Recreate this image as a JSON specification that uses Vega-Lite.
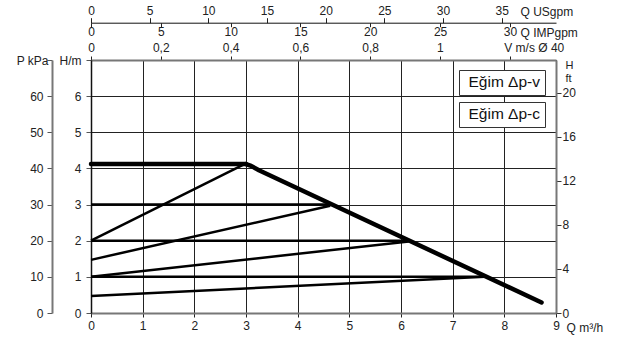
{
  "$schema": "https://vega.github.io/schema/vega-lite/v6.json",
  "width": 465,
  "height": 253,
  "autosize": "none",
  "padding": {"left": 91, "top": 60, "right": 70, "bottom": 32},
  "background": "white",
  "config": {
    "view": {"stroke": null},
    "font": "Liberation Sans",
    "axis": {
      "labelFont": "Liberation Sans",
      "labelFontSize": 12,
      "labelColor": "#222",
      "titleFont": "Liberation Sans",
      "titleFontSize": 12,
      "titleFontWeight": "normal",
      "titleColor": "#222",
      "tickColor": "#333",
      "grid": false,
      "labelFlush": false,
      "labelOverlap": false
    },
    "legend": {
      "orient": "none",
      "title": null,
      "strokeColor": "#333",
      "fillColor": "white",
      "padding": 4,
      "labelFont": "Liberation Sans",
      "labelFontSize": 15.5,
      "labelColor": "#111",
      "symbolOpacity": 0,
      "symbolStrokeWidth": 0,
      "labelLimit": 300
    }
  },
  "data": {
    "values": [
      {"series": "c1", "kind": "c", "Q": 0, "H": 1.0},
      {"series": "c1", "kind": "c", "Q": 7.63, "H": 1.0},
      {"series": "c2", "kind": "c", "Q": 0, "H": 2.0},
      {"series": "c2", "kind": "c", "Q": 6.15, "H": 2.0},
      {"series": "c3", "kind": "c", "Q": 0, "H": 3.0},
      {"series": "c3", "kind": "c", "Q": 4.65, "H": 3.0},
      {"series": "v1", "kind": "v", "Q": 0, "H": 2.0},
      {"series": "v1", "kind": "v", "Q": 2.97, "H": 4.12},
      {"series": "v2", "kind": "v", "Q": 0, "H": 1.47},
      {"series": "v2", "kind": "v", "Q": 4.63, "H": 2.97},
      {"series": "v3", "kind": "v", "Q": 0, "H": 1.0},
      {"series": "v3", "kind": "v", "Q": 6.15, "H": 1.98},
      {"series": "v4", "kind": "v", "Q": 0, "H": 0.47},
      {"series": "v4", "kind": "v", "Q": 7.62, "H": 1.0},
      {"series": "max", "kind": "max", "Q": 0, "H": 4.12},
      {"series": "max", "kind": "max", "Q": 3.0, "H": 4.12},
      {"series": "max", "kind": "max", "Q": 3.1, "H": 4.07},
      {"series": "max", "kind": "max", "Q": 3.25, "H": 3.95},
      {"series": "max", "kind": "max", "Q": 8.72, "H": 0.29}
    ]
  },
  "layer": [
    {
      "transform": [{"filter": "datum.kind == 'c'"}],
      "mark": {"type": "line", "strokeWidth": 2.5, "strokeCap": "butt"},
      "encoding": {
        "x": {
          "field": "Q", "type": "quantitative",
          "scale": {"domain": [0, 9], "nice": false, "zero": false},
          "axis": {
            "orient": "bottom",
            "values": [0, 1, 2, 3, 4, 5, 6, 7, 8, 9],
            "format": "d",
            "grid": true, "gridColor": "#222", "gridWidth": 1,
            "domainColor": "#777", "domainWidth": 2,
            "tickSize": 4, "tickColor": "#222", "labelPadding": 3,
            "title": "Q m³/h", "titleX": 475, "titleY": 14,
            "titleAlign": "left", "titleBaseline": "middle", "titleAngle": 0
          }
        },
        "y": {
          "field": "H", "type": "quantitative",
          "scale": {"domain": [0, 7], "nice": false, "zero": false},
          "axis": {
            "orient": "left",
            "values": [0, 1, 2, 3, 4, 5, 6, 7],
            "labelExpr": "datum.value == 7 ? 'H/m' : datum.label",
            "grid": true, "gridColor": "#222", "gridWidth": 1,
            "domainColor": "#111", "domainWidth": 1.5,
            "tickSize": 5, "tickColor": "#555", "labelPadding": 5,
            "title": null
          }
        },
        "detail": {"field": "series"},
        "color": {
          "datum": "Eğim Δp-c",
          "scale": {"range": ["black"]},
          "legend": {
            "legendX": 368, "legendY": 42,
            "symbolType": "circle", "symbolSize": 1, "symbolOpacity": 0, "labelOffset": -10,
            "labelExpr": "'\u00a0' + datum.label + '\u00a0'"
          }
        }
      }
    },
    {
      "transform": [{"filter": "datum.kind == 'v'"}],
      "mark": {"type": "line", "strokeWidth": 2.5, "strokeCap": "butt"},
      "encoding": {
        "x": {
          "field": "Q", "type": "quantitative",
          "scale": {"domain": [0, 9], "nice": false, "zero": false},
          "axis": {
            "orient": "top",
            "values": [0, 1.3508, 2.7016, 4.0524, 5.4032, 6.754, 8.1048],
            "labelExpr": "datum.value > 8 ? 'V m/s Ø 40' : replace(format(datum.value / 6.754, '.1~f'), '.', ',')",
            "labelAlign": {"condition": {"test": "datum.value > 8", "value": "left"}, "value": "center"},
            "labelOffset": {"condition": {"test": "datum.value > 8", "value": -6}, "value": 0},
            "domainColor": "#777", "domainWidth": 2,
            "tickSize": 4, "tickColor": "#222", "labelPadding": 2,
            "title": null
          }
        },
        "y": {
          "field": "H", "type": "quantitative",
          "scale": {"domain": [0, 7], "nice": false, "zero": false},
          "axis": {
            "orient": "left",
            "offset": 39,
            "values": [0, 1, 2, 3, 4, 5, 6, 7],
            "labelExpr": "datum.value == 7 ? 'P kPa' : format(datum.value * 10, 'd')",
            "labelPadding": {"condition": {"test": "datum.value == 7", "value": -1}, "value": 4},
            "domainColor": "#777", "domainWidth": 2,
            "tickSize": 5, "tickColor": "#555",
            "title": null
          }
        },
        "detail": {"field": "series"},
        "color": {
          "datum": "Eğim Δp-v",
          "scale": {"range": ["black"]},
          "legend": {
            "legendX": 368, "legendY": 10,
            "symbolType": "circle", "symbolSize": 1, "symbolOpacity": 0, "labelOffset": -10,
            "labelExpr": "'\u00a0' + datum.label + '\u00a0'"
          }
        }
      }
    },
    {
      "transform": [{"filter": "datum.kind == 'max' && datum.Q <= 3.0"}],
      "mark": {"type": "line", "strokeWidth": 4.5, "strokeCap": "round", "strokeJoin": "round", "color": "black"},
      "encoding": {
        "x": {
          "field": "Q", "type": "quantitative",
          "scale": {"domain": [0, 9], "nice": false, "zero": false},
          "axis": {
            "orient": "top",
            "offset": 37.3,
            "values": [0, 1.1356, 2.2712, 3.4067, 4.5423, 5.6779, 6.8135, 7.9491],
            "labelExpr": "format(round(datum.value * 4.403), 'd')",
            "domainColor": "#111", "domainWidth": 1,
            "tickSize": 5, "tickColor": "#222", "labelPadding": 0,
            "title": "Q USgpm", "titleX": 429, "titleY": -11,
            "titleAlign": "left", "titleBaseline": "middle", "titleAngle": 0
          }
        },
        "y": {
          "field": "H", "type": "quantitative",
          "scale": {"domain": [0, 7], "nice": false, "zero": false},
          "axis": {
            "orient": "right",
            "values": [0, 1.2192, 2.4384, 3.6576, 4.8768, 6.096],
            "labelExpr": "format(round(datum.value * 3.28084), 'd')",
            "domainColor": "#777", "domainWidth": 2,
            "tickSize": 5, "tickColor": "#333", "labelPadding": 1,
            "title": ["H", "ft"], "titleAngle": 0, "titleAlign": "left",
            "titleBaseline": "top", "titleX": 9, "titleY": -1,
            "titleFontSize": 11, "titleLineHeight": 13
          }
        }
      }
    },
    {
      "transform": [{"filter": "datum.kind == 'max' && datum.Q >= 3.0"}],
      "mark": {"type": "line", "strokeWidth": 4.5, "strokeCap": "round", "strokeJoin": "round", "color": "black"},
      "encoding": {
        "x": {
          "field": "Q", "type": "quantitative",
          "scale": {"domain": [0, 9], "nice": false, "zero": false},
          "axis": {
            "orient": "bottom",
            "offset": -290.3,
            "values": [0, 1.3514, 2.7027, 4.0541, 5.4054, 6.7568, 8.1081],
            "labelExpr": "format(round(datum.value * 3.7), 'd')",
            "domain": false,
            "tickSize": 4, "tickColor": "#222", "labelPadding": 0,
            "title": "Q IMPgpm", "titleX": 429, "titleY": 10,
            "titleAlign": "left", "titleBaseline": "middle", "titleAngle": 0
          }
        },
        "y": {
          "field": "H", "type": "quantitative",
          "scale": {"domain": [0, 7], "nice": false, "zero": false},
          "axis": null
        }
      }
    }
  ],
  "resolve": {
    "scale": {"color": "independent"},
    "axis": {"x": "independent", "y": "independent"}
  }
}
